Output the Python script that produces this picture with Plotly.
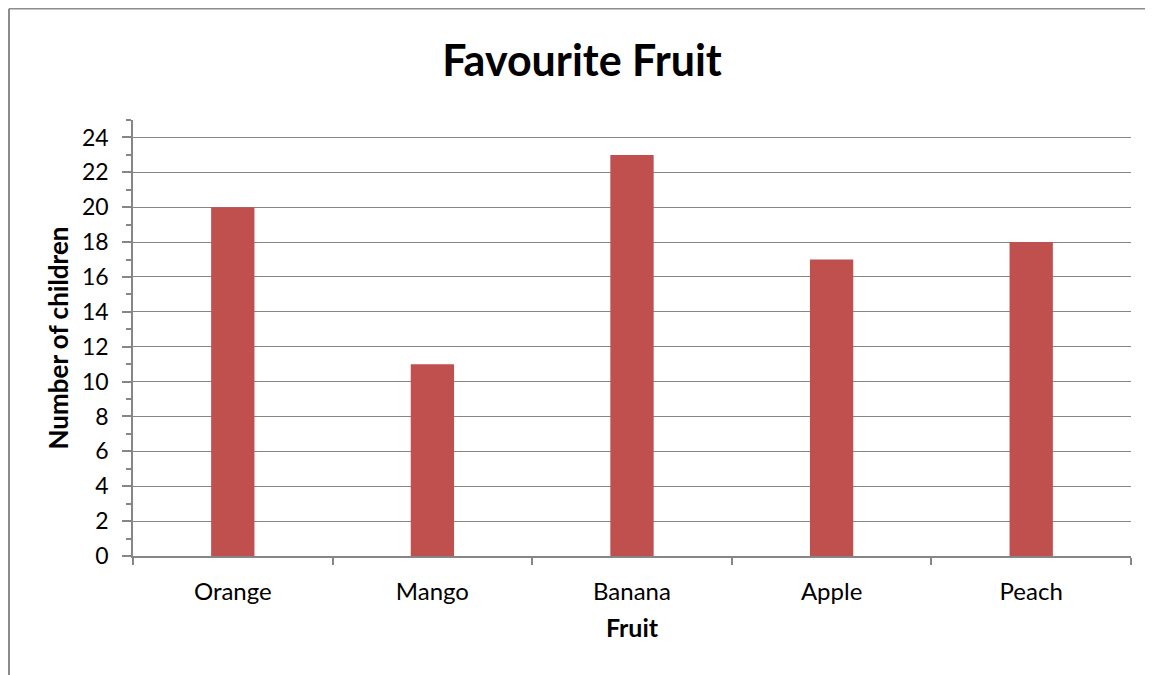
import plotly.graph_objects as go

fruits = ["Orange", "Mango", "Banana", "Apple", "Peach"]
children = [20, 11, 23, 17, 18]
y_ticks = list(range(0, 25, 2))

FONT = "Lato"
GRAY = "#868686"

W, H = 1145, 667
L, R, T, B = 125, 22, 112, 119
PW, PH = W - L - R, H - T - B

fig = go.Figure()
fig.add_trace(go.Bar(
    x=fruits, y=children,
    marker=dict(color="#C0504D", line=dict(width=0)),
    width=0.217,
))

fig.update_layout(
    width=W, height=H,
    margin=dict(l=L, r=R, t=T, b=B),
    paper_bgcolor="white", plot_bgcolor="white",
    showlegend=False,
    title=dict(text="<b>Favourite Fruit</b>", x=574 / W, xanchor="center",
               y=1 - 53 / H, yanchor="middle",
               font=dict(family=FONT, size=43, color="black")),
    font=dict(family=FONT, color="black"),
)

fig.update_xaxes(
    type="category",
    showline=True, linecolor=GRAY, linewidth=1.5,
    ticks="outside", tickson="boundaries", ticklen=7, tickcolor=GRAY, tickwidth=1.5,
    tickfont=dict(family=FONT, size=24, color="black"),
    ticklabelstandoff=13,
    showgrid=False,
    title=dict(text="<b>Fruit</b>", font=dict(family=FONT, size=25, color="black"), standoff=16),
)

fig.update_yaxes(
    range=[0, 25],
    tickvals=y_ticks, ticktext=[str(v) for v in y_ticks],
    showline=True, linecolor=GRAY, linewidth=1.5,
    ticks="outside", ticklen=9, tickcolor=GRAY, tickwidth=1.5,
    minor=dict(dtick=1, tick0=0, ticks="outside", ticklen=5, tickcolor=GRAY, tickwidth=1.5, showgrid=False),
    showgrid=True, gridcolor=GRAY, gridwidth=1,
    tickfont=dict(family=FONT, size=23, color="black"),
    ticklabelstandoff=9,
    zeroline=False,
    title=dict(text="<b>Number of children</b>", font=dict(family=FONT, size=26, color="black"), standoff=6),
)

# chart area border (top and left edges visible in the reference)
x_left = (1 - L) / PW
y_top = (PH + T - 0.75) / PH
fig.add_shape(type="line", xref="paper", yref="paper",
              x0=x_left, x1=x_left, y0=y_top, y1=-0.3,
              line=dict(color="#8C8C8C", width=2))
fig.add_shape(type="line", xref="paper", yref="paper",
              x0=x_left, x1=1.1, y0=y_top, y1=y_top,
              line=dict(color="#8C8C8C", width=1.5))

fig.write_html("out.html")
